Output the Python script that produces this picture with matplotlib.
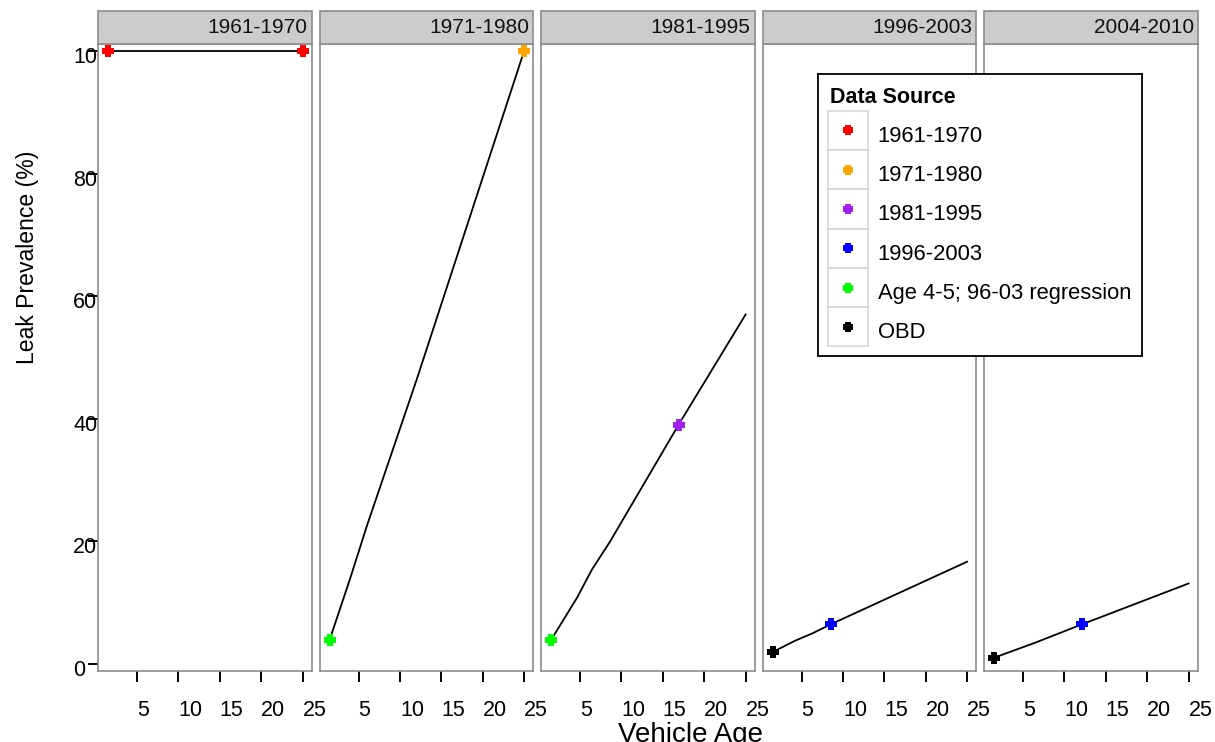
"""
plot.py - leak prevalence by vehicle age, one panel per model-year group
(lattice-style strips on top, shared y axis, legend box over the last panels).
"""

import matplotlib
matplotlib.use("Agg")
import matplotlib.pyplot as plt
import matplotlib.transforms as mtransforms
from matplotlib.patches import Rectangle

plt.rcParams["font.family"] = ["Liberation Sans", "DejaVu Sans"]

# --- data ---------------------------------------------------------------------
PANELS = ["1961-1970", "1971-1980", "1981-1995", "1996-2003", "2004-2010"]

# curve vertices per panel (vehicle age, leak %)
AGE_6170 = [1.5, 25]
LEAK_6170 = [100, 100]
AGE_7180 = [1.5, 4, 6, 12, 25]
LEAK_7180 = [3.9, 14.0, 22.5, 46.3, 100]
AGE_8195 = [1.5, 4.6, 6.4, 8.6, 16.9, 25]
LEAK_8195 = [3.9, 10.7, 15.3, 19.9, 39.0, 57.0]
AGE_9603 = [1.5, 4.2, 6.3, 8.5, 25]
LEAK_9603 = [1.9, 3.75, 4.95, 6.42, 16.65]
AGE_0410 = [1.5, 6.4, 12.1, 25]
LEAK_0410 = [0.98, 3.4, 6.42, 13.1]

CURVES = [(AGE_6170, LEAK_6170), (AGE_7180, LEAK_7180), (AGE_8195, LEAK_8195),
          (AGE_9603, LEAK_9603), (AGE_0410, LEAK_0410)]

SOURCES = ["1961-1970", "1971-1980", "1981-1995", "1996-2003",
           "Age 4-5; 96-03 regression", "OBD"]
SOURCE_COLORS = ["#FF0000", "#FFA500", "#A020F0", "#0000FF", "#00FF00", "#000000"]

# anchor points: panel index, source index, age, leak
PT_PANEL = [0, 0, 1, 1, 2, 2, 3, 3, 4, 4]
PT_SOURCE = [0, 0, 4, 1, 4, 2, 5, 3, 5, 3]
PT_AGE = [1.5, 25, 1.5, 25, 1.5, 16.9, 1.5, 8.5, 1.5, 12.1]
PT_LEAK = [100, 100, 3.9, 100, 3.9, 39.0, 1.9, 6.42, 0.98, 6.42]

X_TICKS = [5, 10, 15, 20, 25]
Y_TICKS = [0, 20, 40, 60, 80, 100]

# --- layout (pixels of a 1215x742 canvas) ---------------------------------------
W, H = 1215, 742
PANEL_L0, PANEL_STEP, PANEL_W = 98.3, 221.5, 213.4
PANEL_TOP, PANEL_BOT = 44.3, 670.7
STRIP_H = 33.3
FRAME = "#8C8C8C"
PX = 0.72  # points per pixel at dpi 100
TICK_FS = 15.5

# fat plus, like R's filled cross symbol
_a = 0.5
FAT_PLUS = [(-_a, 1), (_a, 1), (_a, _a), (1, _a), (1, -_a), (_a, -_a), (_a, -1),
            (-_a, -1), (-_a, -_a), (-1, -_a), (-1, _a), (-_a, _a), (-_a, 1)]
MS = 8.5

fig = plt.figure(figsize=(W / 100, H / 100), dpi=100)

for i, name in enumerate(PANELS):
    left = PANEL_L0 + i * PANEL_STEP
    ax = fig.add_axes([left / W, 1 - PANEL_BOT / H, PANEL_W / W,
                       (PANEL_BOT - PANEL_TOP) / H])
    ages, leaks = CURVES[i]
    ax.plot(ages, leaks, color="black", lw=1.3, zorder=2)
    for p, s, a, v in zip(PT_PANEL, PT_SOURCE, PT_AGE, PT_LEAK):
        if p == i:
            ax.plot(a, v, marker=FAT_PLUS, ms=MS, mew=0, color=SOURCE_COLORS[s],
                    zorder=3, clip_on=False)

    ax.set_xlim(0.31, 26.1)
    ax.set_ylim(-1.14, 101.1)
    for sp in ax.spines.values():
        sp.set_color(FRAME)
        sp.set_linewidth(1.2)

    # strip
    sh = STRIP_H / (PANEL_BOT - PANEL_TOP)
    ax.add_patch(Rectangle((0, 1), 1, sh, transform=ax.transAxes, clip_on=False,
                           fc="#CCCCCC", ec=FRAME, lw=1.2, zorder=4))
    ax.text(1 - 4 / PANEL_W, 1 + sh / 2, name, transform=ax.transAxes,
            ha="right", va="center", fontsize=15, color="#111111", zorder=5)

    ax.set_xticks(X_TICKS)
    ax.set_xticklabels([str(t) for t in X_TICKS])
    ax.tick_params(axis="x", direction="out", length=11 * PX, width=1.4,
                   color="black", labelsize=TICK_FS, pad=(45.5 - 11) * PX)
    for lbl in ax.get_xticklabels():
        lbl.set_ha("left")
        lbl.set_va("baseline")

    if i == 0:
        ax.set_yticks(Y_TICKS)
        ax.set_yticklabels([str(t) for t in Y_TICKS])
        ax.tick_params(axis="y", direction="out", length=10.5 * PX, width=1.4,
                       color="black", labelsize=TICK_FS, pad=(25.3 - 10.5) * PX)
        clip = mtransforms.TransformedBbox(
            mtransforms.Bbox([[0, 0], [PANEL_L0 / W, 1]]), fig.transFigure)
        shift = mtransforms.ScaledTranslation(0, -12.3 / 100, fig.dpi_scale_trans)
        for lbl in ax.get_yticklabels():
            lbl.set_ha("left")
            lbl.set_va("baseline")
            lbl.set_transform(lbl.get_transform() + shift)
            lbl.set_clip_box(clip)
            lbl.set_clip_on(True)
    else:
        ax.set_yticks([])
    ax.tick_params(top=False, right=False)

fig.text(28 / W, 1 - 257 / H, "Leak Prevalence (%)", rotation=90,
         ha="center", va="center", fontsize=16.6)
fig.text(690 / W, 1 - 722 / H, "Vehicle Age", ha="center", va="top",
         fontsize=20)

# --- legend box ---------------------------------------------------------------
LEG_L, LEG_T, LEG_R, LEG_B = 818.3, 74.0, 1141.7, 356.0
leg = fig.add_axes([LEG_L / W, 1 - LEG_B / H, (LEG_R - LEG_L) / W,
                    (LEG_B - LEG_T) / H], zorder=10)
leg.set_xlim(0, LEG_R - LEG_L)
leg.set_ylim(LEG_B - LEG_T, 0)
leg.set_xticks([])
leg.set_yticks([])
for sp in leg.spines.values():
    sp.set_color("black")
    sp.set_linewidth(1.3)
leg.text(11.7, 29.3, "Data Source", fontsize=15.5, fontweight="bold",
         ha="left", va="baseline")
ROW_H = 39.3
for k, (src, col) in enumerate(zip(SOURCES, SOURCE_COLORS)):
    top = 36.7 + k * ROW_H
    leg.add_patch(Rectangle((10, top), 40, ROW_H, fc="white", ec="#D3D3D3", lw=1.1))
    leg.plot(29.4, top + ROW_H / 2, marker=FAT_PLUS, ms=MS * 0.9, mew=0, color=col)
    leg.text(59.4, top + 31, src, fontsize=15.8, ha="left", va="baseline")

fig.savefig("out.png", dpi=100)
